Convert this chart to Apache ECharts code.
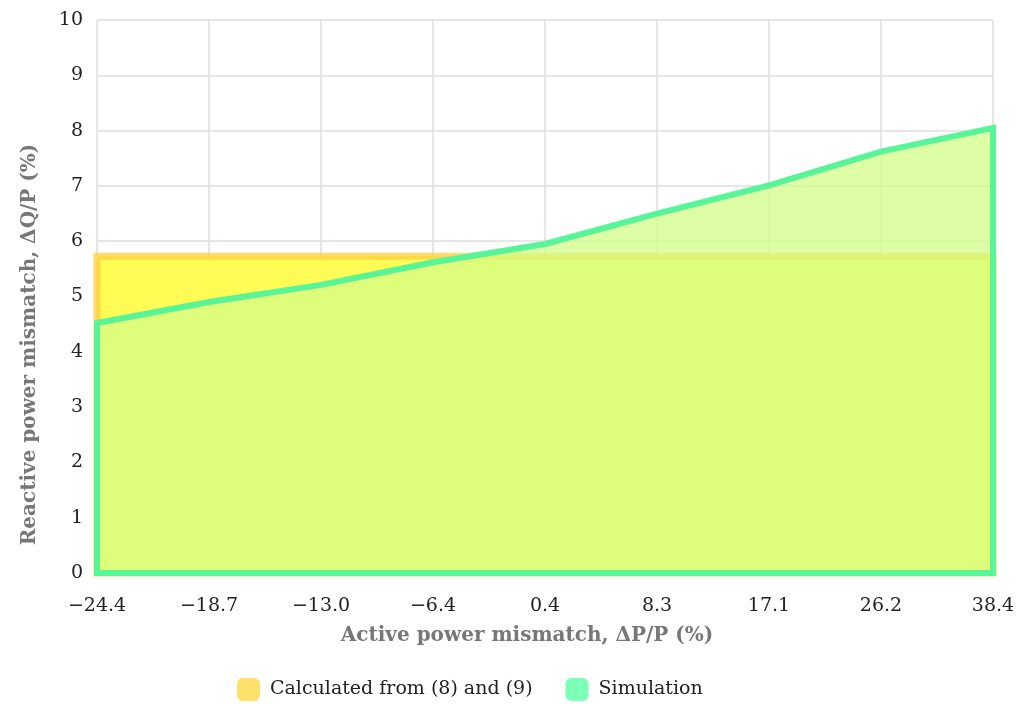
<!DOCTYPE html>
<html>
<head>
<meta charset="utf-8">
<script src="https://cdn.jsdelivr.net/npm/echarts@6/dist/echarts.min.js"></script>
<style>
html,body{margin:0;padding:0;background:#fff;}
#chart{width:1032px;height:704px;}
</style>
</head>
<body>
<div id="chart"></div>
<script>
const categories = ['−24.4', '−18.7', '−13.0', '−6.4', '0.4', '8.3', '17.1', '26.2', '38.4'];
const calculated = [5.73, 5.73, 5.73, 5.73, 5.73, 5.73, 5.73, 5.73, 5.73];
const simulation = [4.52, 4.9, 5.21, 5.62, 5.95, 6.5, 7.01, 7.62, 8.05];
const yTicks = [0, 10, 1];

const FONT = 'DejaVu Serif';

function polygonRenderer(values, fill, stroke, lw) {
  return function (params, api) {
    if (params.dataIndex !== 0) return null;
    const pts = [api.coord([0, 0])];
    values.forEach(function (v, i) { pts.push(api.coord([i, v])); });
    pts.push(api.coord([values.length - 1, 0]));
    return {
      type: 'polygon',
      shape: { points: pts },
      style: { fill: fill, stroke: stroke, lineWidth: lw, lineJoin: 'miter' }
    };
  };
}

const chart = echarts.init(document.getElementById('chart'), null, { renderer: 'canvas' });
chart.setOption({
  animation: false,
  backgroundColor: '#fff',
  grid: { left: 97, right: 39, top: 20, bottom: 131, containLabel: false },
  legend: {
    top: 673,
    left: 232,
    icon: 'roundRect',
    itemWidth: 23,
    itemHeight: 23,
    itemGap: 33,
    textStyle: { fontFamily: FONT, fontSize: 19, color: '#222', padding: [0, 0, 0, 5] },
    data: ['Calculated from (8) and (9)', 'Simulation']
  },
  xAxis: {
    type: 'category',
    data: categories,
    boundaryGap: false,
    name: 'Active power mismatch, ΔP/P (%)',
    nameLocation: 'middle',
    nameGap: 53,
    nameTextStyle: { fontFamily: FONT, fontSize: 20, fontWeight: 'bold', color: '#777', padding: [0, 36, 0, 0] },
    axisLine: { show: false },
    axisTick: { show: false },
    axisLabel: { fontFamily: FONT, fontSize: 19, color: '#222', margin: 24 },
    splitLine: { show: true, lineStyle: { color: '#dedede', width: 1.5 } }
  },
  yAxis: {
    type: 'value',
    min: yTicks[0],
    max: yTicks[1],
    interval: yTicks[2],
    name: 'Reactive power mismatch, ΔQ/P (%)',
    nameLocation: 'middle',
    nameGap: 57,
    nameTextStyle: { fontFamily: FONT, fontSize: 20, fontWeight: 'bold', color: '#777', padding: [0, 96, 0, 0] },
    axisLine: { show: false },
    axisTick: { show: false },
    axisLabel: { fontFamily: FONT, fontSize: 19, color: '#222', margin: 14 },
    splitLine: { show: true, lineStyle: { color: '#dedede', width: 1.5 } }
  },
  series: [
    {
      name: 'Calculated from (8) and (9)',
      type: 'custom',
      itemStyle: { color: 'rgba(255,222,90,0.9)' },
      data: calculated.map(function (v, i) { return [i, v]; }),
      encode: { x: 0, y: 1 },
      renderItem: polygonRenderer(calculated, 'rgba(255,252,70,0.92)', 'rgba(255,205,60,0.75)', 7),
      z: 2
    },
    {
      name: 'Simulation',
      type: 'custom',
      itemStyle: { color: 'rgba(110,255,175,0.9)' },
      data: simulation.map(function (v, i) { return [i, v]; }),
      encode: { x: 0, y: 1 },
      renderItem: polygonRenderer(simulation, 'rgba(210,253,135,0.74)', 'rgba(88,245,152,1)', 6),
      z: 3
    }
  ]
});
</script>
</body>
</html>
